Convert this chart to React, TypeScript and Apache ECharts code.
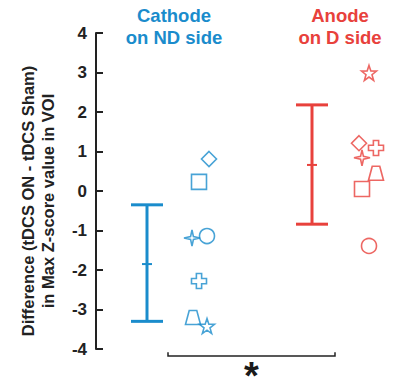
import React, { useEffect, useRef } from "react";
import * as echarts from "echarts";

const BLUE = "#1a8ccc";
const RED = "#e8413c";
const FONT = "'Liberation Sans', Arial, sans-serif";

// Group labels
const groupTitles = ["Cathode\non ND side", "Anode\non D side"];

// Error bars: [x, low, mean, high]
const cathodeBar = [0.51, -3.3, -1.85, -0.35];
const anodeBar = [2.16, -0.84, 0.66, 2.18];

// Individual subject symbols
const symbolNames = ["diamond", "square", "sparkle", "circle", "cross", "trapezoid", "star"];
const cathodeX = [1.13, 1.03, 0.96, 1.11, 1.03, 0.97, 1.11];
const cathodeY = [0.81, 0.23, -1.19, -1.14, -2.28, -3.2, -3.42];
const anodeX = [2.63, 2.66, 2.66, 2.73, 2.8, 2.8, 2.73];
const anodeY = [1.21, 0.05, 0.84, -1.39, 1.09, 0.45, 2.99];

// Significance bracket: [xLeft, xRight, yLine, yTickTop]
const bracket = [0.72, 2.39, -4.18, -4.08];
const sigLabel = "*";

const yTicks = [-4, -3, -2, -1, 0, 1, 2, 3, 4];

const SYMBOLS: Record<string, string> = {
  diamond: "diamond",
  square: "rect",
  circle: "circle",
  sparkle: "path://M0,-10 L1.8,-1.8 L10,0 L1.8,1.8 L0,10 L-1.8,1.8 L-10,0 L-1.8,-1.8 Z",
  cross: "path://M-3.5,-10 L3.5,-10 L3.5,-3.5 L10,-3.5 L10,3.5 L3.5,3.5 L3.5,10 L-3.5,10 L-3.5,3.5 L-10,3.5 L-10,-3.5 L-3.5,-3.5 Z",
  trapezoid: "path://M-5,-10 L5,-10 L10,10 L-10,10 Z",
  star: "path://M0,-10 L2.35,-3.24 L9.51,-3.09 L3.8,1.24 L5.88,8.09 L0,4 L-5.88,8.09 L-3.8,1.24 L-9.51,-3.09 L-2.35,-3.24 Z",
};
const SIZES: Record<string, number | number[]> = {
  diamond: 15,
  square: 15,
  circle: 15,
  sparkle: 16,
  cross: 15,
  trapezoid: [15, 14],
  star: 15,
};

function pointsData(xs: number[], ys: number[]) {
  return xs.map((x, i) => ({
    value: [x, ys[i]],
    symbol: SYMBOLS[symbolNames[i]],
    symbolSize: SIZES[symbolNames[i]],
  }));
}

function errorBarRender(params: any, api: any) {
  const x = api.value(0);
  const lo = api.value(1);
  const mean = api.value(2);
  const hi = api.value(3);
  const pTop = api.coord([x, hi]);
  const pBot = api.coord([x, lo]);
  const pMean = api.coord([x, mean]);
  const color = api.visual("color");
  const capW = 16;
  const meanW = 5;
  const style = { stroke: color, lineWidth: 3 };
  return {
    type: "group",
    children: [
      { type: "line", shape: { x1: pTop[0], y1: pTop[1], x2: pBot[0], y2: pBot[1] }, style },
      { type: "line", shape: { x1: pTop[0] - capW, y1: pTop[1], x2: pTop[0] + capW, y2: pTop[1] }, style },
      { type: "line", shape: { x1: pBot[0] - capW, y1: pBot[1], x2: pBot[0] + capW, y2: pBot[1] }, style },
      { type: "line", shape: { x1: pMean[0] - meanW, y1: pMean[1], x2: pMean[0] + meanW, y2: pMean[1] }, style: { stroke: color, lineWidth: 2 } },
    ],
  };
}

function bracketRender(params: any, api: any) {
  const xl = api.value(0);
  const xr = api.value(1);
  const yl = api.value(2);
  const yt = api.value(3);
  const pL = api.coord([xl, yl]);
  const pR = api.coord([xr, yl]);
  const pLt = api.coord([xl, yt]);
  const pRt = api.coord([xr, yt]);
  const mid = api.coord([(xl + xr) / 2, yl]);
  const style = { stroke: "#222", lineWidth: 1.5 };
  return {
    type: "group",
    children: [
      { type: "polyline", shape: { points: [pLt, pL, pR, pRt] }, style: { ...style, fill: "none" } },
      {
        type: "text",
        x: mid[0],
        y: mid[1] + 20,
        style: {
          text: sigLabel,
          fill: "#1a1a1a",
          font: `bold 38px ${FONT}`,
          align: "center",
          verticalAlign: "middle",
        },
      },
    ],
  };
}

export default function App() {
  const ref = useRef<HTMLDivElement>(null);
  useEffect(() => {
    if (!ref.current) return;
    const chart = echarts.init(ref.current, undefined, { renderer: "svg" });
    const titleStyle = (color: string) => ({
      color,
      fontSize: 18.5,
      fontWeight: "bold",
      fontFamily: FONT,
      lineHeight: 22,
      align: "center",
    });
    chart.setOption({
      animation: false,
      backgroundColor: "#fff",
      title: [
        { text: groupTitles[0], left: 174, top: 4, textAlign: "center", padding: 0, textStyle: titleStyle(BLUE) },
        { text: groupTitles[1], left: 340, top: 4, textAlign: "center", padding: 0, textStyle: titleStyle(RED) },
      ],
      grid: { left: 96, top: 33, width: 300, bottom: 28, containLabel: false },
      xAxis: { type: "value", min: 0, max: 3, show: false },
      yAxis: {
        type: "value",
        min: yTicks[0],
        max: yTicks[yTicks.length - 1],
        interval: 1,
        axisLine: { show: true, lineStyle: { color: "#222", width: 2 } },
        axisTick: { show: true, inside: true, length: 7, lineStyle: { color: "#222", width: 2 } },
        axisLabel: { color: "#222", fontSize: 17, fontWeight: "bold", fontFamily: FONT, margin: 9 },
        splitLine: { show: false },
      },
      graphic: [
        {
          type: "text",
          x: 38,
          y: 201,
          rotation: Math.PI / 2,
          style: {
            text: "Difference (tDCS ON - tDCS Sham)\nin Max Z-score value in VOI",
            fill: "#222",
            font: `bold 16.5px ${FONT}`,
            lineHeight: 20.5,
            align: "center",
            verticalAlign: "middle",
          },
        },
      ],
      series: [
        { type: "custom", renderItem: errorBarRender, itemStyle: { color: BLUE }, data: [cathodeBar], z: 2 },
        { type: "custom", renderItem: errorBarRender, itemStyle: { color: RED }, data: [anodeBar], z: 2 },
        {
          type: "scatter",
          itemStyle: { color: "rgba(255,255,255,0)", borderColor: BLUE, borderWidth: 1.6 },
          data: pointsData(cathodeX, cathodeY),
          z: 3,
        },
        {
          type: "scatter",
          itemStyle: { color: "rgba(255,255,255,0)", borderColor: RED, borderWidth: 1.6 },
          data: pointsData(anodeX, anodeY),
          z: 3,
        },
        { type: "custom", renderItem: bracketRender, clip: false, data: [bracket], z: 2 },
      ],
    });
    return () => chart.dispose();
  }, []);
  return <div ref={ref} style={{ position: "fixed", left: 0, top: 0, width: 397, height: 377 }} />;
}
